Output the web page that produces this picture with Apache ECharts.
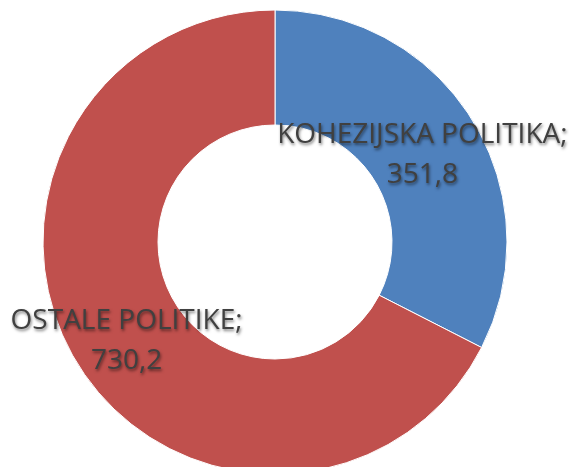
<!DOCTYPE html>
<html>
<head>
<meta charset="utf-8">
<script src="https://cdn.jsdelivr.net/npm/echarts@6/dist/echarts.min.js"></script>
<style>
  html, body { margin: 0; padding: 0; background: #fff; }
  #chart { width: 569px; height: 467px; }
</style>
</head>
<body>
<div id="chart"></div>
<script>
// podaci
var names = ['KOHEZIJSKA POLITIKA', 'OSTALE POLITIKE'];
var values = [351.8, 730.2];
var colors = ['#4F81BD', '#C0504D'];
// mali pomak natpisa
var labelOffsets = [[-4, 6], [3, 6]];

var data = [];
for (var i = 0; i < names.length; i++) {
  data.push({
    name: names[i],
    value: values[i],
    itemStyle: { color: colors[i] },
    label: { offset: labelOffsets[i] }
  });
}

var myChart = echarts.init(document.getElementById('chart'), null, { renderer: 'canvas' });
myChart.setOption({
  animation: false,
  series: [{
    type: 'pie',
    center: [275, 242],
    radius: [117, 232],
    startAngle: 90,
    clockwise: true,
    data: data,
    itemStyle: { borderColor: '#fff', borderWidth: 1 },
    label: {
      show: true,
      position: 'inner',
      formatter: function (p) {
        return p.name + ';\n' + p.value.toFixed(1).replace('.', ',');
      },
      color: '#404040',
      fontFamily: 'Open Sans',
      fontSize: 28,
      lineHeight: 40,
      textShadowColor: 'rgba(0,0,0,0.5)',
      textShadowBlur: 3,
      textShadowOffsetX: 1,
      textShadowOffsetY: 2
    },
    labelLine: { show: false },
    emphasis: { disabled: true }
  }]
});
</script>
</body>
</html>
